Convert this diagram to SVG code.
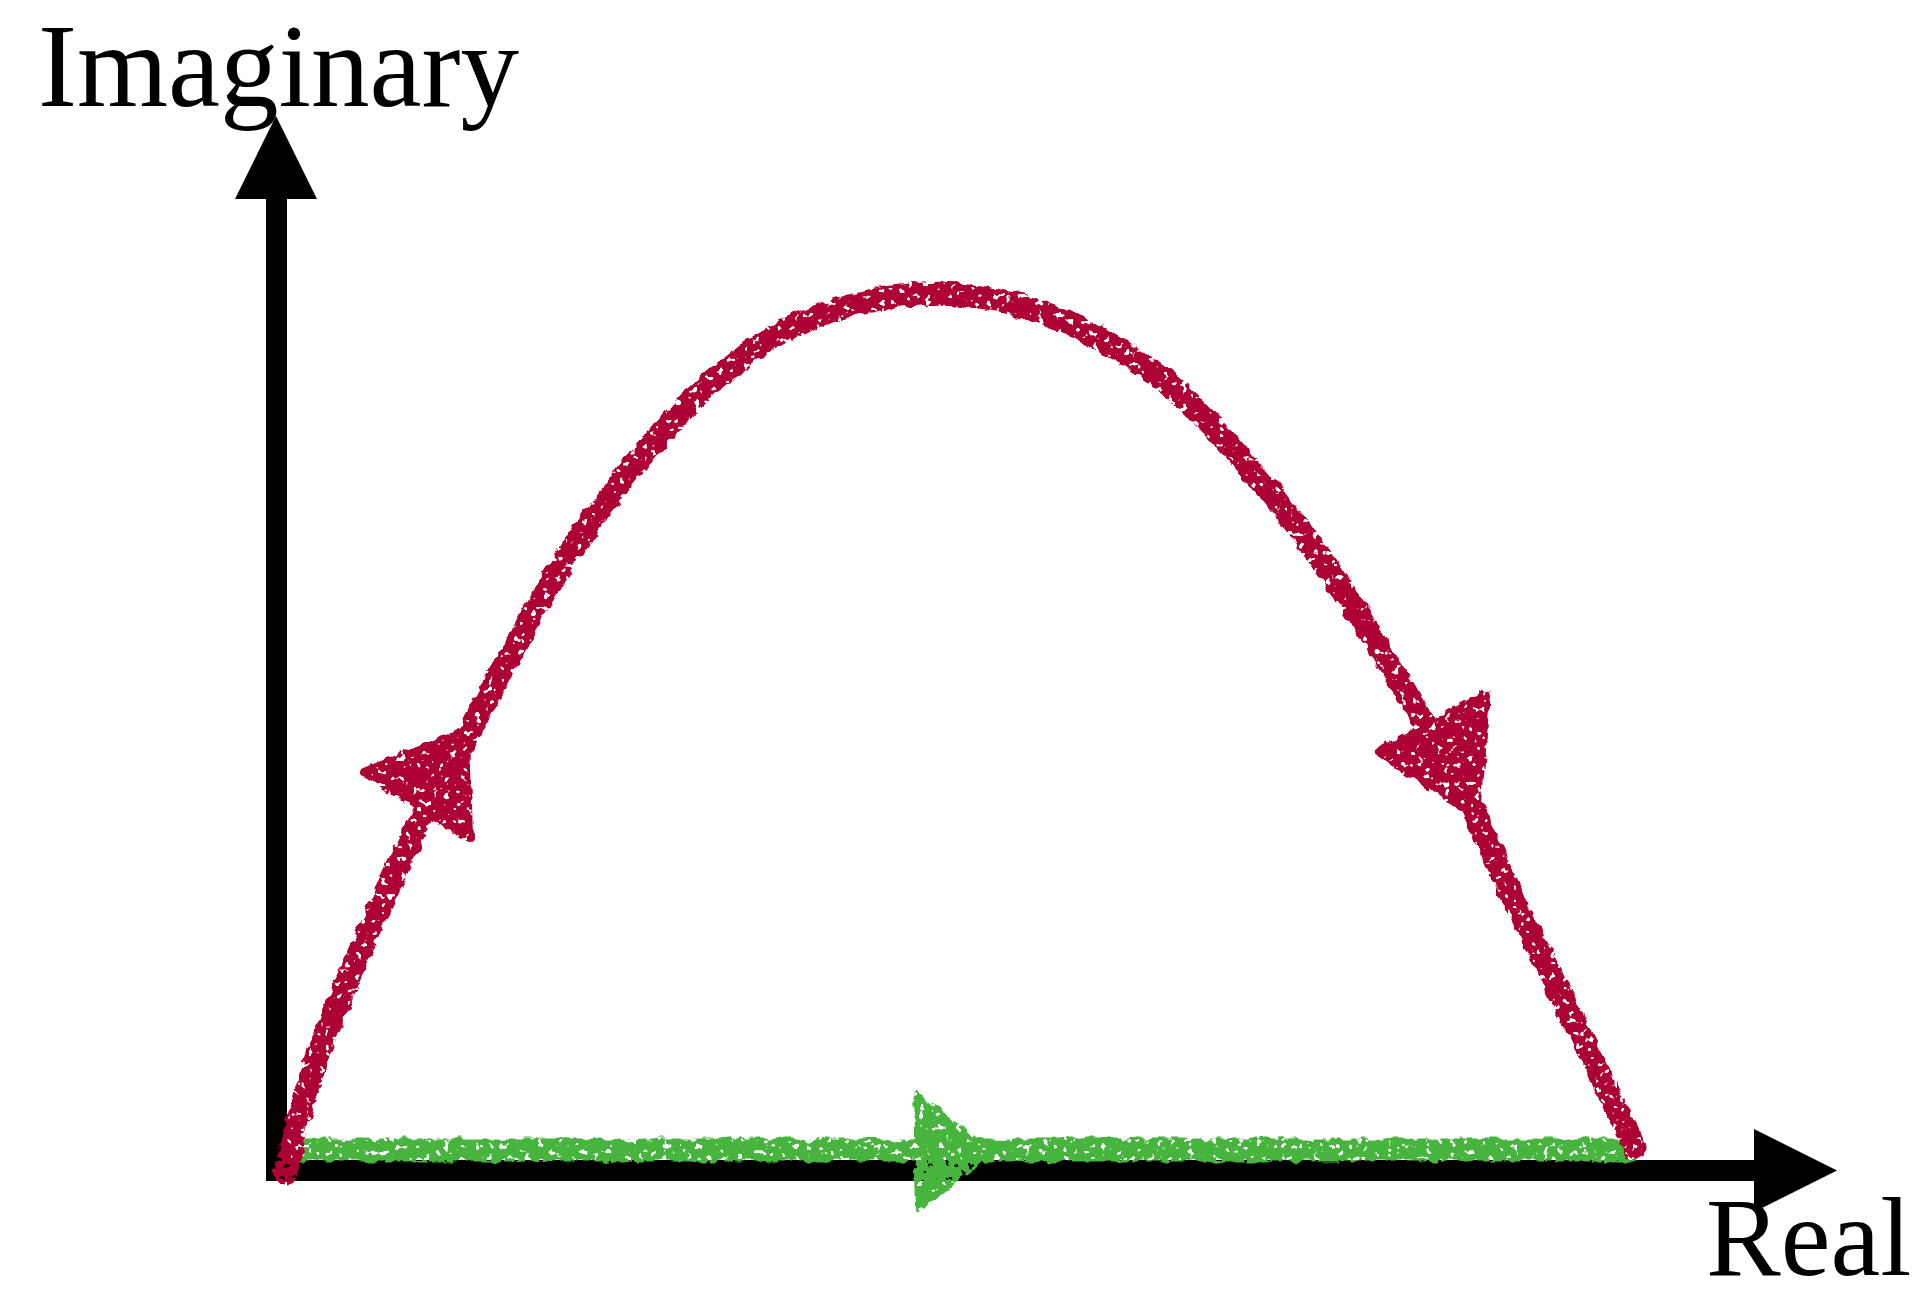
<svg xmlns="http://www.w3.org/2000/svg" width="1922" height="1300" viewBox="0 0 1922 1300">
  <defs>
    <style>
      .axis { fill: none; stroke: #000; stroke-width: 21; stroke-linejoin: miter; stroke-linecap: butt; }
      .axhead { fill: #000; }
      .label { font-family: "Liberation Serif", "DejaVu Serif", serif; fill: #000; }
      .red { fill: none; stroke: #ad0034; stroke-width: 23; stroke-linecap: round; stroke-linejoin: round; }
      .redfill { fill: #ad0034; stroke: #ad0034; stroke-width: 8; stroke-linejoin: round; }
      .green { fill: none; stroke: #46b43e; stroke-width: 23; stroke-linecap: butt; }
      .greenfill { fill: #46b43e; stroke: #46b43e; stroke-width: 6; stroke-linejoin: round; }
    </style>
    <filter id="chalk" filterUnits="userSpaceOnUse" x="0" y="0" width="1922" height="1300">
      <feTurbulence type="fractalNoise" baseFrequency="0.09" numOctaves="2" seed="3" result="n"/>
      <feDisplacementMap in="SourceGraphic" in2="n" scale="9" xChannelSelector="R" yChannelSelector="G" result="d"/>
      <feTurbulence type="fractalNoise" baseFrequency="0.16" numOctaves="2" seed="11" result="s"/>
      <feColorMatrix in="s" type="matrix" values="0 0 0 0 0  0 0 0 0 0  0 0 0 0 0  -16 0 0 0 11.2" result="holes"/>
      <feComposite in="d" in2="holes" operator="in"/>
    </filter>
  </defs>
  <rect width="1922" height="1300" fill="#fff"/>

  <g id="axes">
    <path class="axis" d="M276.5 196 V1170.5 H1758"/>
    <polygon class="axhead" points="276,116 317,199 235,199"/>
    <polygon class="axhead" points="1837,1170.5 1754,1129 1754,1212"/>
  </g>

  <g id="label-imaginary">
    <text class="label" x="38" y="106" font-size="118" textLength="481" lengthAdjust="spacingAndGlyphs">Imaginary</text>
  </g>
  <g id="label-real">
    <text class="label" x="1706" y="1275" font-size="112">Real</text>
  </g>

  <g id="connectors" filter="url(#chalk)">
    <g id="green-path">
      <path class="green" d="M298 1150 H1637"/>
      <polygon class="greenfill" points="916,1094 919,1208 989,1153"/>
    </g>
    <g id="red-path">
      <path class="red" d="M285 1172 L299 1117 Q313 1064 333 1015.5 Q353 967 370 928.5 Q387 890 402 858 Q417 826 432 799 Q447 772 461 747 Q475 722 489 695 Q503 668 528 622 Q553 576 578 539.5 Q603 503 628 472.5 Q653 442 676.5 416 Q700 390 733.5 364 Q767 338 800 323 Q833 308 875 300 Q917 292 950 293.5 Q983 295 1025 307.5 Q1067 320 1100 338.5 Q1133 357 1161.5 378.5 Q1190 400 1218.5 432.5 Q1247 465 1280 505 Q1313 545 1346.5 596.5 Q1380 648 1405 691.5 Q1430 735 1450 767.5 Q1470 800 1483.5 832.5 Q1497 865 1522 916 Q1547 967 1572 1018 Q1597 1069 1616 1108.5 L1635 1148"/>
      <polygon class="redfill" points="364,772 466,730 469,838"/>
      <polygon class="redfill" points="1379,752 1486,694 1477,817"/>
    </g>
  </g>
</svg>
